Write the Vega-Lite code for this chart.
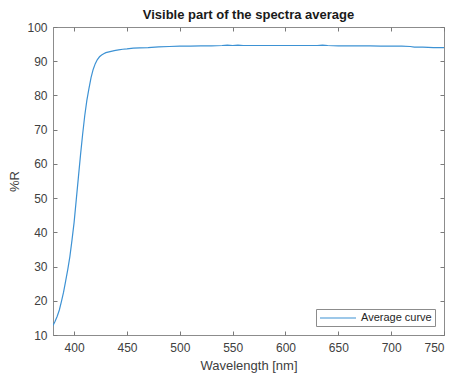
{
  "$schema": "https://vega.github.io/schema/vega-lite/v6.json",
  "autosize": {"type": "none"},
  "padding": {"left": 53, "top": 27, "right": 11, "bottom": 46},
  "width": 391,
  "height": 308,
  "title": {"text": "Visible part of the spectra average", "font": "Liberation Sans", "fontSize": 13, "fontWeight": "bold", "color": "#1a1a1a", "offset": -1, "anchor": "middle"},
  "config": {
    "font": "Liberation Sans",
    "view": {"stroke": "#8c8c8c", "strokeWidth": 1},
    "axis": {"grid": false, "domainColor": "#8c8c8c", "tickColor": "#7a7a7a", "labelColor": "#404040", "titleColor": "#404040", "labelFont": "Liberation Sans", "titleFont": "Liberation Sans", "labelFontSize": 12, "titleFontSize": 13, "titleFontWeight": "normal"}
  },
  "data": {"values": [
    {"wl": 380, "r": 12.8}, {"wl": 382, "r": 14.0}, {"wl": 384, "r": 15.5}, {"wl": 386, "r": 17.3},
    {"wl": 388, "r": 19.8}, {"wl": 390, "r": 22.5}, {"wl": 392, "r": 25.8}, {"wl": 394, "r": 29.2},
    {"wl": 396, "r": 33.0}, {"wl": 398, "r": 37.8}, {"wl": 400, "r": 43.0}, {"wl": 402, "r": 49.5},
    {"wl": 404, "r": 56.0}, {"wl": 406, "r": 62.5}, {"wl": 408, "r": 68.5}, {"wl": 410, "r": 74.0},
    {"wl": 412, "r": 78.5}, {"wl": 414, "r": 82.0}, {"wl": 416, "r": 85.2}, {"wl": 418, "r": 87.6},
    {"wl": 420, "r": 89.3}, {"wl": 422, "r": 90.5}, {"wl": 424, "r": 91.3}, {"wl": 426, "r": 91.8},
    {"wl": 428, "r": 92.2}, {"wl": 430, "r": 92.5}, {"wl": 434, "r": 92.8}, {"wl": 438, "r": 93.1},
    {"wl": 442, "r": 93.3}, {"wl": 446, "r": 93.5}, {"wl": 450, "r": 93.6}, {"wl": 456, "r": 93.8},
    {"wl": 462, "r": 93.9}, {"wl": 470, "r": 94.0}, {"wl": 480, "r": 94.2}, {"wl": 490, "r": 94.3},
    {"wl": 500, "r": 94.4}, {"wl": 510, "r": 94.4}, {"wl": 520, "r": 94.5}, {"wl": 530, "r": 94.5},
    {"wl": 540, "r": 94.6}, {"wl": 545, "r": 94.7}, {"wl": 550, "r": 94.6}, {"wl": 555, "r": 94.7},
    {"wl": 560, "r": 94.6}, {"wl": 570, "r": 94.6}, {"wl": 580, "r": 94.6}, {"wl": 590, "r": 94.6},
    {"wl": 600, "r": 94.6}, {"wl": 610, "r": 94.6}, {"wl": 620, "r": 94.6}, {"wl": 630, "r": 94.6},
    {"wl": 635, "r": 94.7}, {"wl": 640, "r": 94.6}, {"wl": 650, "r": 94.5}, {"wl": 660, "r": 94.5},
    {"wl": 670, "r": 94.5}, {"wl": 680, "r": 94.5}, {"wl": 690, "r": 94.4}, {"wl": 700, "r": 94.4},
    {"wl": 710, "r": 94.4}, {"wl": 718, "r": 94.3}, {"wl": 722, "r": 94.1}, {"wl": 730, "r": 94.1},
    {"wl": 740, "r": 94.0}, {"wl": 750, "r": 94.0}
  ]},
  "transform": [{"calculate": "'Average curve'", "as": "series"}],
  "layer": [
    {
      "mark": {"type": "line", "strokeWidth": 1.2, "clip": true},
      "encoding": {
        "x": {"field": "wl", "type": "quantitative", "scale": {"domain": [380, 750], "nice": false, "zero": false},
              "axis": {"orient": "bottom", "title": "Wavelength [nm]", "values": [400, 450, 500, 550, 600, 650, 700, 750], "ticks": false, "labelPadding": 7, "titlePadding": 6}},
        "y": {"field": "r", "type": "quantitative", "scale": {"domain": [10, 100], "nice": false, "zero": false},
              "axis": {"orient": "left", "title": "%R", "values": [10, 20, 30, 40, 50, 60, 70, 80, 90, 100], "ticks": false, "labelPadding": 6, "titlePadding": 5}},
        "color": {"field": "series", "type": "nominal", "scale": {"range": ["#3d92d4"]},
                  "legend": {"title": null, "orient": "bottom-right", "offset": 9, "strokeColor": "#8c8c8c", "fillColor": "white", "padding": 3, "symbolType": "M-1,0L6.2,0", "symbolSize": 100, "symbolStrokeWidth": 1.2, "labelOffset": 30, "labelFontSize": 11, "labelColor": "#262626", "labelFont": "Liberation Sans", "cornerRadius": 0}}
      }
    },
    {
      "mark": {"type": "line", "opacity": 0},
      "encoding": {
        "x": {"field": "wl", "type": "quantitative", "axis": {"orient": "top", "offset": -308, "title": null, "labels": false, "domain": false, "values": [400, 450, 500, 550, 600, 650, 700, 750], "tickSize": 4}},
        "y": {"field": "r", "type": "quantitative", "axis": {"orient": "right", "offset": -391, "title": null, "labels": false, "domain": false, "values": [10, 20, 30, 40, 50, 60, 70, 80, 90, 100], "tickSize": 4}}
      }
    },
    {
      "mark": {"type": "line", "opacity": 0},
      "encoding": {
        "x": {"field": "wl", "type": "quantitative", "axis": {"orient": "bottom", "offset": -308, "title": null, "labels": false, "domain": false, "values": [400, 450, 500, 550, 600, 650, 700, 750], "tickSize": 4}},
        "y": {"field": "r", "type": "quantitative", "axis": {"orient": "left", "offset": -391, "title": null, "labels": false, "domain": false, "values": [10, 20, 30, 40, 50, 60, 70, 80, 90, 100], "tickSize": 4}}
      }
    }
  ],
  "resolve": {"axis": {"x": "independent", "y": "independent"}}
}
